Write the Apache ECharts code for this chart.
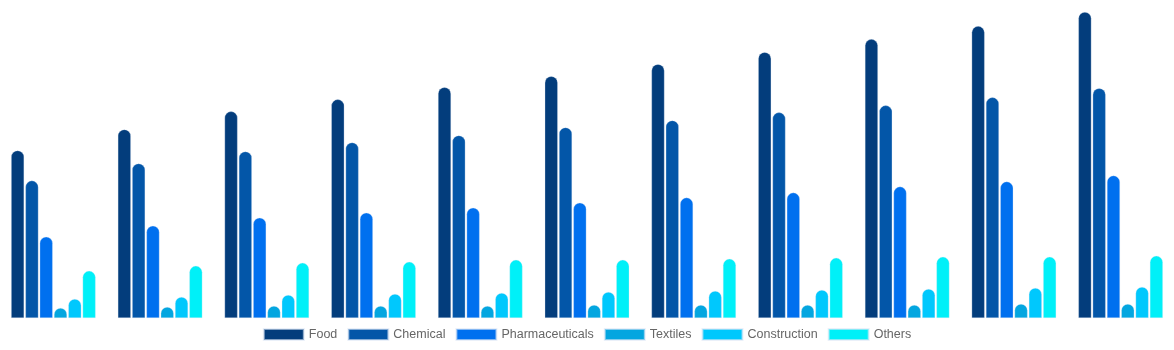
<!DOCTYPE html>
<html>
<head>
<meta charset="utf-8">
<script src="https://cdn.jsdelivr.net/npm/echarts@6/dist/echarts.min.js"></script>
<style>
  html, body { margin: 0; padding: 0; background: #fff; }
  #chart { width: 1174px; height: 350px; }
</style>
</head>
<body>
<div id="chart"></div>
<script>
// Output by sector, one group per year
const categories = ['2014', '2015', '2016', '2017', '2018', '2019', '2020', '2021', '2022', '2023', '2024'];

const food            = [167, 188, 206, 218, 230, 241, 253, 265, 278, 291, 305];
const chemical        = [137, 154, 166, 175, 182, 190, 197, 205, 212, 220, 229];
const pharmaceuticals = [81, 92, 100, 105, 110, 115, 120, 125, 131, 136, 142];
const textiles        = [10, 11, 12, 12, 12, 13, 13, 13, 13, 14, 14];
const construction    = [19, 21, 23, 24, 25, 26, 27, 28, 29, 30, 31];
const others          = [47, 52, 55, 56, 58, 58, 59, 60, 61, 61, 62];

const seriesNames  = ['Food', 'Chemical', 'Pharmaceuticals', 'Textiles', 'Construction', 'Others'];
const seriesValues = [food, chemical, pharmaceuticals, textiles, construction, others];
const palette      = ['#033d7c', '#0356a8', '#0070ef', '#03a6e0', '#00c8fd', '#00f0f8'];

const chart = echarts.init(document.getElementById('chart'), null, { renderer: 'canvas' });

chart.setOption({
  animation: false,
  color: palette,
  grid: { left: 0, right: 0, top: 0, bottom: 32, containLabel: false },
  xAxis: {
    type: 'category',
    data: categories,
    axisLine: { show: false },
    axisTick: { show: false },
    axisLabel: { show: false },
    splitLine: { show: false }
  },
  yAxis: {
    type: 'value',
    min: 0,
    max: 317,
    show: false,
    splitLine: { show: false }
  },
  legend: {
    bottom: 4,
    left: 'center',
    itemWidth: 40,
    itemHeight: 11,
    itemGap: 10,
    icon: 'rect',
    textStyle: { color: '#666', fontSize: 12.5, fontFamily: '"Liberation Sans", Arial, sans-serif' },
    data: seriesNames
  },
  series: seriesNames.map((name, i) => ({
    name: name,
    type: 'bar',
    data: seriesValues[i],
    barWidth: 13,
    barGap: '10%',
    itemStyle: {
      borderRadius: [7, 7, 0, 0],
      borderColor: 'rgba(220,230,245,0.6)',
      borderWidth: 0.5
    }
  }))
});
</script>
</body>
</html>
